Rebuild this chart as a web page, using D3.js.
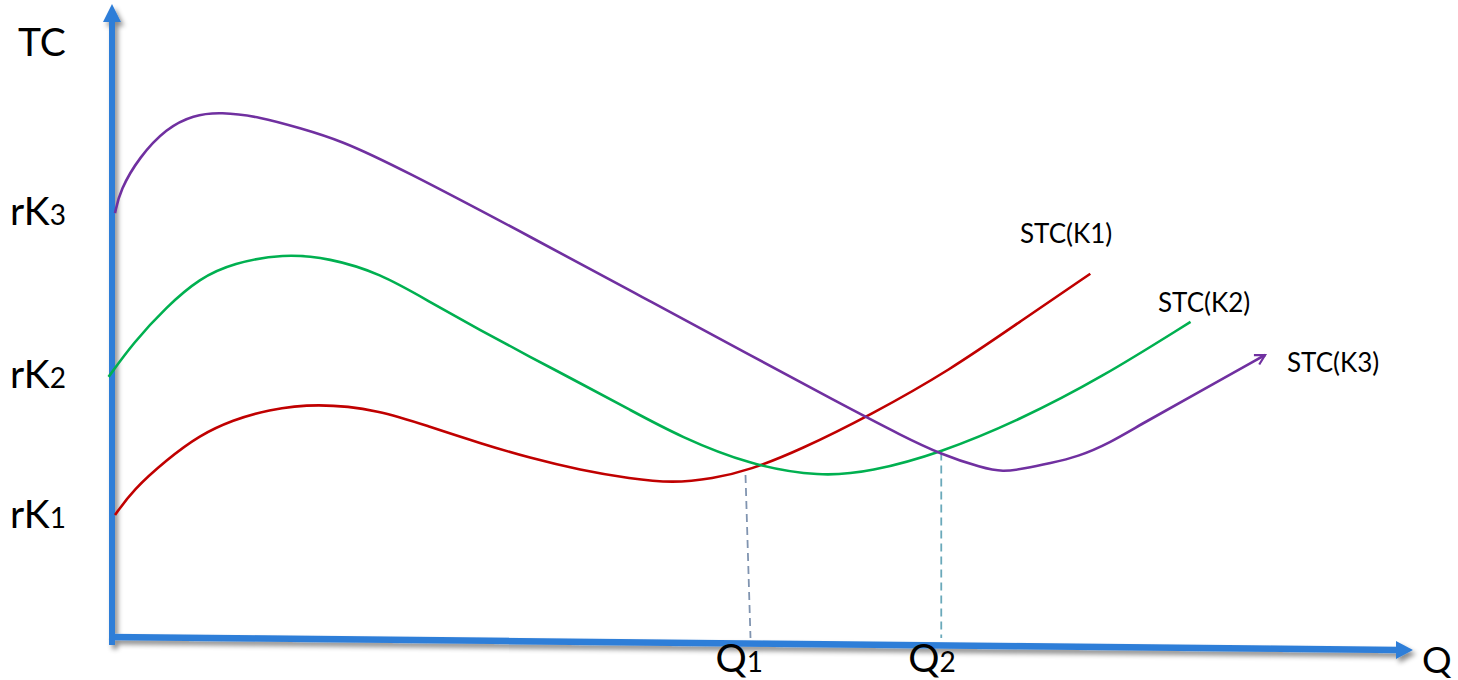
<!DOCTYPE html>
<html>
<head>
<meta charset="utf-8">
<script src="https://cdn.jsdelivr.net/npm/d3@7"></script>
<style>
  body { margin: 0; background: #fff; }
  text { font-family: Lato, "Noto Sans", sans-serif; fill: #000; }
</style>
</head>
<body>
<svg id="chart"></svg>
<script>
// curve values (Q, TC), abstract units 0-100
var stcK1 = [[0,19.2],[1.4,23.2],[4.0,28.0],[6.6,32.0],[9.2,34.4],[11.8,36.0],[15.7,37.1],[20.6,36.0],
  [24.5,33.3],[28.4,30.7],[32.3,28.3],[36.2,26.4],[40.1,25.0],[43.4,24.3],[46.5,25.0],[49.4,26.4],
  [53.3,29.6],[58.8,35.2],[65.0,42.4],[70.4,50.1],[75.9,57.8]];
var stcK2 = [[-0.5,41.3],[1.4,46.7],[4.0,52.5],[6.6,57.1],[9.2,59.5],[13.1,61.0],[16.7,60.3],[20.6,57.9],
  [24.5,53.3],[28.4,48.8],[32.3,44.5],[36.2,40.3],[40.1,36.0],[44.0,31.7],[49.4,27.2],[54.9,25.3],
  [58.8,26.1],[64.2,29.1],[70.4,34.4],[76.7,41.1],[83.7,50.1]];
var stcK3 = [[0,67.5],[0.4,71.2],[1.9,76.5],[4.0,81.1],[6.1,83.2],[8.2,83.7],[11.3,82.9],[14.4,81.1],
  [17.5,79.2],[22.2,74.7],[32.8,63.2],[41.0,54.1],[49.4,44.8],[56.0,37.5],[61.5,31.6],[64.2,29.0],
  [67.5,26.7],[69.1,26.1],[70.7,26.6],[72.8,27.5],[74.9,28.5],[77.4,30.7],[80.0,33.9],[84.4,38.9],
  [89.5,44.8]];
var curveNames = ['STC(K1)', 'STC(K2)', 'STC(K3)'];
var yLabels = [{v: 19.2, sub: '1'}, {v: 41.6, sub: '2'}, {v: 67.7, sub: '3'}];
var qMarks = [{q: 49.3, top: 25.6, sub: '1'}, {q: 64.3, top: 29.2, sub: '2'}];

var width = 1458, height = 680;
var svg = d3.select('#chart').attr('width', width).attr('height', height);

var x = d3.scaleLinear().domain([0, 100]).range([115, 1400]);
var y = d3.scaleLinear().domain([0, 100]).range([635, 10]);

var defs = svg.append('defs');
var shadow = defs.append('filter').attr('id', 'shadow')
  .attr('x', '-20%').attr('y', '-20%').attr('width', '140%').attr('height', '140%');
shadow.append('feDropShadow').attr('dx', 3).attr('dy', 4).attr('stdDeviation', 2.5)
  .attr('flood-color', '#000').attr('flood-opacity', 0.45);

defs.append('marker').attr('id', 'purpleArrow')
  .attr('viewBox', '0 0 12 12').attr('refX', 10).attr('refY', 6)
  .attr('markerWidth', 5).attr('markerHeight', 5).attr('orient', 'auto')
  .attr('markerUnits', 'strokeWidth')
  .append('path').attr('d', 'M1,1 L10,6 L1,11')
  .attr('fill', 'none').attr('stroke', '#7030a0').attr('stroke-width', 2);

var blue = '#2f7ed8';
var axes = svg.append('g').attr('filter', 'url(#shadow)');

// y axis with arrow
axes.append('line')
  .attr('x1', x(0) - 3).attr('y1', y(0) + 10)
  .attr('x2', x(0) - 3).attr('y2', 20)
  .attr('stroke', blue).attr('stroke-width', 6);
axes.append('path')
  .attr('d', `M${x(0) - 3},4 L${x(0) + 6},22 L${x(0) - 12},22 Z`)
  .attr('fill', blue);

// x axis (slightly tilted, as in the sketch) with arrow
var xEnd = 1413, tilt = 13;
axes.append('line')
  .attr('x1', x(0) - 6).attr('y1', y(0) + 2)
  .attr('x2', xEnd - 14).attr('y2', y(0) + 2 + tilt)
  .attr('stroke', blue).attr('stroke-width', 6.5);
axes.append('path')
  .attr('d', `M${xEnd},${y(0) + 2 + tilt} L${xEnd - 17},${y(0) + 2 + tilt - 9} L${xEnd - 17},${y(0) + 2 + tilt + 9} Z`)
  .attr('fill', blue);

// dashed guides
svg.selectAll('.guide')
  .data(qMarks)
  .enter()
  .append('line')
  .attr('class', 'guide')
  .attr('x1', (d, i) => x(d.q) - (i === 0 ? 3 : 0))
  .attr('y1', d => y(d.top))
  .attr('x2', (d, i) => x(d.q) + (i === 0 ? 2 : 0))
  .attr('y2', y(0) + 3)
  .attr('stroke', (d, i) => i === 0 ? '#8094b0' : '#6aa9ba')
  .attr('stroke-width', 1.8)
  .attr('stroke-dasharray', '8,5');

// curves (basis spline smooths out reading noise)
var line = d3.line()
  .x(d => x(d[0]))
  .y(d => y(d[1]))
  .curve(d3.curveBasis);

var series = [stcK1, stcK2, stcK3];
var colors = ['#c00000', '#00b050', '#7030a0'];

svg.selectAll('.stc')
  .data(series)
  .enter()
  .append('path')
  .attr('class', 'stc')
  .attr('d', line)
  .attr('fill', 'none')
  .attr('stroke', (d, i) => colors[i])
  .attr('stroke-width', 2.6)
  .attr('marker-end', (d, i) => i === 2 ? 'url(#purpleArrow)' : null);

// curve labels
var labelPos = [[1020, 243], [1158, 312], [1287, 372]];
svg.selectAll('.stc-label')
  .data(curveNames)
  .enter()
  .append('text')
  .attr('class', 'stc-label')
  .attr('x', (d, i) => labelPos[i][0])
  .attr('y', (d, i) => labelPos[i][1])
  .style('font-size', '26px')
  .text(d => d);

// axis titles
svg.append('text').attr('x', 18).attr('y', 56).style('font-size', '39px').text('TC');
svg.append('text').attr('x', 1422).attr('y', 673).style('font-size', '37px').text('Q');

// rK labels on y axis
var yl = svg.selectAll('.rk')
  .data(yLabels)
  .enter()
  .append('text')
  .attr('class', 'rk')
  .attr('x', 10)
  .attr('y', d => y(d.v) + 13)
  .style('font-size', '39px');
yl.append('tspan').text('rK');
yl.append('tspan').style('font-size', '28px').text(d => d.sub);

// Q labels on x axis
var ql = svg.selectAll('.qlab')
  .data(qMarks)
  .enter()
  .append('text')
  .attr('class', 'qlab')
  .attr('x', d => x(d.q) - 33)
  .attr('y', 672)
  .style('font-size', '39px');
ql.append('tspan').text('Q');
ql.append('tspan').style('font-size', '28px').text(d => d.sub);
</script>
</body>
</html>
